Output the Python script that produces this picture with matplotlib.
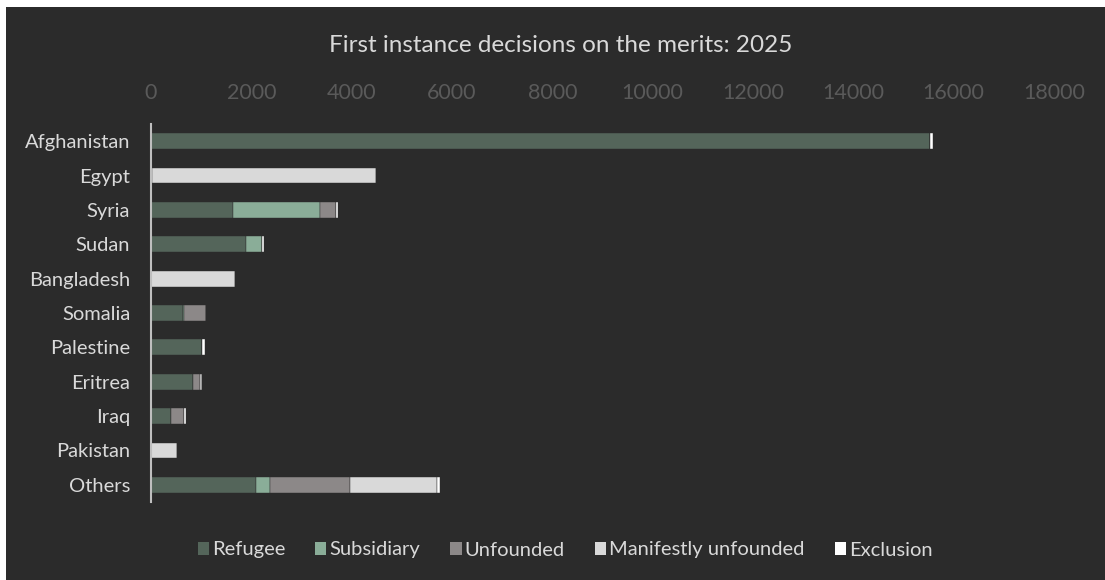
import matplotlib
matplotlib.use("Agg")
import matplotlib.pyplot as plt
from matplotlib.patches import Rectangle, Patch

countries = ["Afghanistan", "Egypt", "Syria", "Sudan", "Bangladesh", "Somalia",
             "Palestine", "Eritrea", "Iraq", "Pakistan", "Others"]
refugee = [15530, 20, 1630, 1890, 0, 640, 1010, 840, 390, 0, 2100]
subsidiary = [0, 0, 1730, 330, 0, 25, 0, 0, 0, 0, 275]
unfounded = [0, 0, 330, 0, 0, 430, 0, 130, 260, 0, 1600]
manifestly_unfounded = [0, 4460, 0, 0, 1670, 0, 0, 50, 0, 520, 1735]
exclusion = [60, 0, 45, 40, 0, 0, 60, 0, 45, 0, 55]

series_names = ["Refugee", "Subsidiary", "Unfounded", "Manifestly unfounded", "Exclusion"]
series = [refugee, subsidiary, unfounded, manifestly_unfounded, exclusion]
colors = ["#54655a", "#8aad98", "#8c8888", "#d9d9d9", "#ffffff"]

BG = "#2b2b2b"
FONT = ["Lato", "DejaVu Sans"]

fig = plt.figure(figsize=(11.05, 5.8), dpi=100, facecolor="white")
fig.patches.append(Rectangle((6 / 1105, 0), 1, 573 / 580, transform=fig.transFigure,
                             facecolor=BG, edgecolor="none", zorder=-10))

ax = fig.add_axes([151 / 1105, 78 / 580, (1054 - 151) / 1105, (456 - 78) / 580])
ax.set_facecolor("none")

y = list(range(len(countries)))
left = [0] * len(countries)
for name, vals, col in zip(series_names, series, colors):
    ax.barh(y, vals, left=left, height=0.46, color=col, label=name,
            edgecolor=BG, linewidth=0.3)
    left = [a + b for a, b in zip(left, vals)]

ax.set_ylim(len(countries) - 0.5, -0.5)
ax.set_xlim(0, 18000)
ax.set_xticks(range(0, 18001, 2000))
ax.xaxis.tick_top()
ax.tick_params(axis="x", length=0, labelsize=15.5, labelcolor="#5a5a5a", pad=15)
ax.tick_params(axis="y", length=0, labelsize=14.5, labelcolor="#d9d9d9", pad=15)
ax.set_yticks(y)
ax.set_yticklabels(countries)
for lbl in ax.get_xticklabels() + ax.get_yticklabels():
    lbl.set_family(FONT)

for s in ["top", "right", "bottom"]:
    ax.spines[s].set_visible(False)
ax.spines["left"].set_color("#bfbfbf")
ax.spines["left"].set_linewidth(1.5)

fig.text(561 / 1105, 1 - 46 / 580, "First instance decisions on the merits: 2025",
         ha="center", va="center", fontsize=17.5, color="#d9d9d9", family=FONT)

handles = [Patch(facecolor=c, edgecolor="none") for c in colors]
leg = fig.legend(handles, series_names, loc="center", bbox_to_anchor=(565 / 1105, 1 - 550 / 580),
                 ncol=5, frameon=False, handlelength=0.55, handleheight=0.6,
                 handletextpad=0.15, columnspacing=1.5,
                 prop={"family": FONT, "size": 14.5})
for t in leg.get_texts():
    t.set_color("#d9d9d9")

fig.savefig("out.png", dpi=100, facecolor="white")
